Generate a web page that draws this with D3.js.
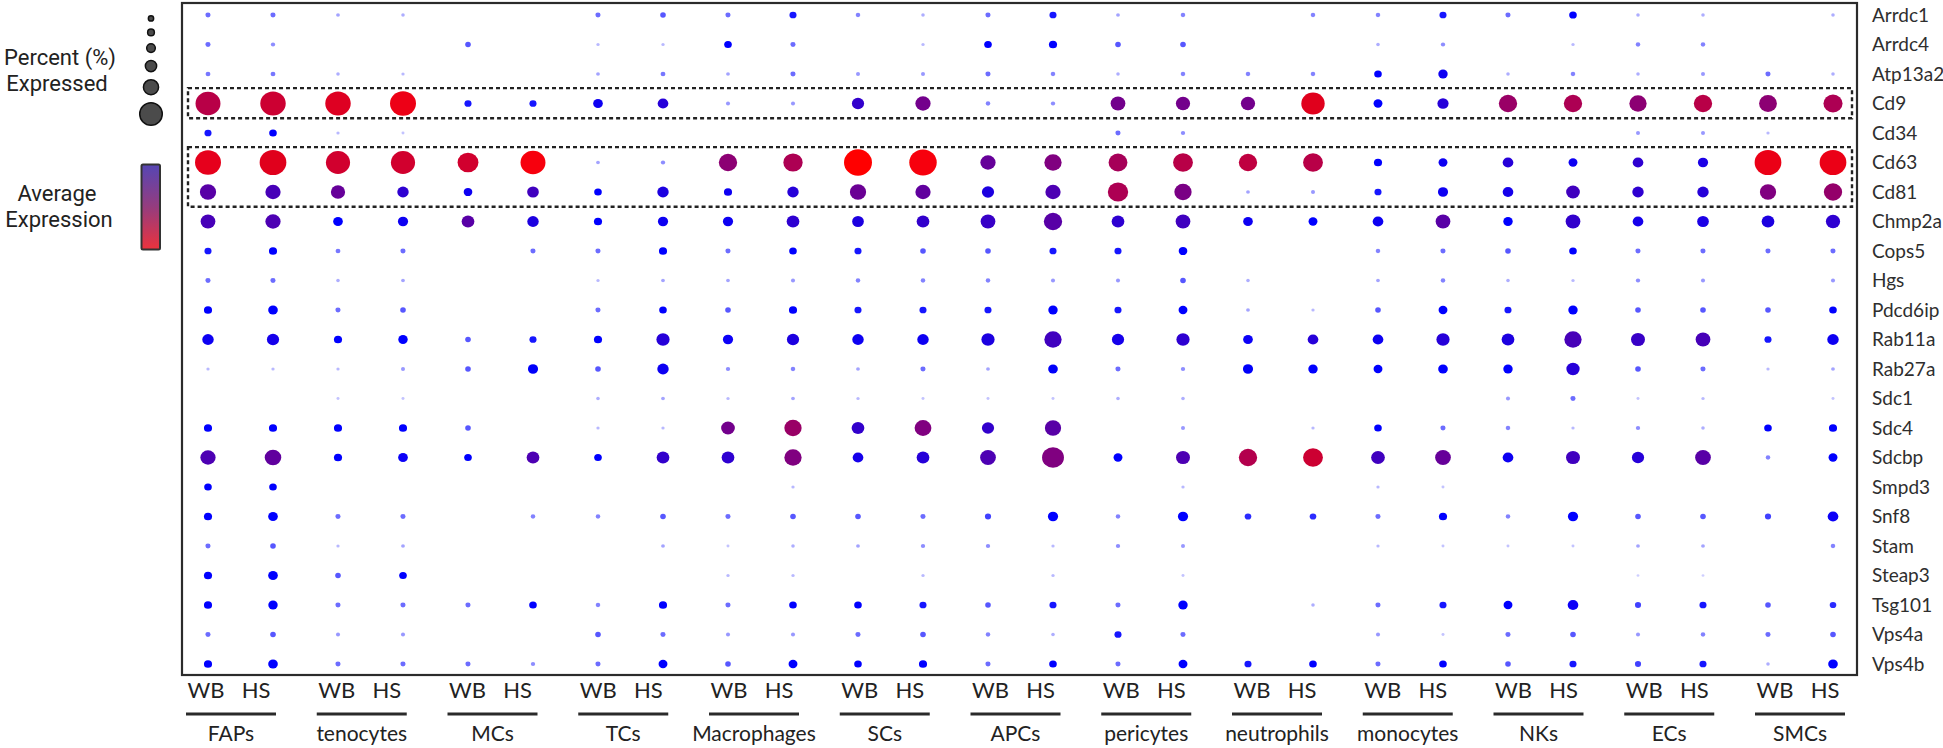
<!DOCTYPE html>
<html>
<head>
<meta charset="utf-8">
<script src="https://cdn.jsdelivr.net/npm/d3@7"></script>
<style>
  html, body { margin: 0; padding: 0; background: #fff; }
  svg { display: block; }
</style>
</head>
<body>
<svg id="chart" width="1943" height="748"></svg>
<script>
// ---------------- DATA ----------------
const genes = ["Arrdc1","Arrdc4","Atp13a2","Cd9","Cd34","Cd63","Cd81","Chmp2a","Cops5","Hgs","Pdcd6ip","Rab11a","Rab27a","Sdc1","Sdc4","Sdcbp","Smpd3","Snf8","Stam","Steap3","Tsg101","Vps4a","Vps4b"];
const cellTypes = ["FAPs","tenocytes","MCs","TCs","Macrophages","SCs","APCs","pericytes","neutrophils","monocytes","NKs","ECs","SMCs"];
const conditions = ["WB","HS"];
const highlightedGeneSets = [["Cd9"],["Cd63","Cd81"]];

// percent expressed, one row per gene (columns: FAPs WB, FAPs HS, tenocytes WB, ...)
const pctExpressed = [
  [10,10,5,4,0,0,10,12,10,18,8,4,10,18,5,8,0,8,8,18,10,20,4,4,0,4],        // Arrdc1
  [10,7,0,0,12,0,3,3,20,10,0,3,20,22,12,12,0,0,4,7,0,3,8,8,0,0],            // Arrdc4
  [9,9,4,3,0,0,5,9,5,10,6,6,10,8,4,8,8,8,20,27,4,8,4,6,10,4],               // Atp13a2
  [88,90,90,92,18,18,28,32,6,6,38,50,8,7,48,46,46,82,25,34,62,62,58,62,60,65], // Cd9
  [18,20,3,2,0,0,0,0,0,0,0,0,0,0,10,7,0,0,0,0,0,0,6,6,3,0],                 // Cd34
  [92,95,85,85,72,88,5,7,62,66,100,98,50,58,64,68,62,68,22,25,32,25,32,30,95,95], // Cd63
  [54,50,46,35,24,36,20,35,22,35,54,50,38,50,70,58,5,6,18,30,32,44,35,35,54,62], // Cd81
  [48,50,28,30,40,35,22,30,30,40,36,40,48,62,40,48,28,25,32,48,27,48,32,36,40,46], // Chmp2a
  [18,22,9,10,0,10,10,22,10,20,18,12,12,18,18,24,0,0,8,10,12,20,10,10,10,10], // Cops5
  [10,10,4,5,0,0,3,5,5,6,8,8,8,6,6,12,4,0,5,8,4,3,7,6,0,6],                 // Hgs
  [22,28,10,12,0,0,10,20,12,22,18,18,18,27,18,25,5,3,12,25,18,27,12,12,12,20], // Pdcd6ip
  [35,38,22,27,12,18,22,42,30,38,35,35,42,58,38,42,28,32,32,42,40,58,45,48,18,35], // Rab11a
  [3,3,3,6,12,30,12,35,7,8,5,10,5,28,10,7,30,27,25,28,27,42,12,10,3,5],     // Rab27a
  [0,0,2,2,0,0,4,5,3,5,3,2,2,2,4,4,0,0,0,0,6,10,2,3,0,2],                   // Sdc1
  [22,22,22,22,12,0,3,3,44,58,40,56,38,54,0,6,0,3,20,10,8,3,7,4,20,22],     // Sdc4
  [50,55,22,28,20,40,20,40,40,58,32,40,52,76,25,45,62,68,44,52,32,45,38,52,8,25], // Sdcbp
  [20,20,0,0,0,0,0,0,0,3,0,0,0,0,0,3,0,0,3,2,0,0,0,0,0,0],                  // Smpd3
  [22,28,10,10,0,8,8,12,10,12,12,10,14,30,8,30,16,16,10,22,8,30,12,12,14,32], // Snf8
  [10,12,3,5,0,0,0,5,2,4,5,7,7,3,7,6,0,0,3,2,2,2,5,5,0,8],                  // Stam
  [22,28,12,20,0,0,0,0,3,3,0,3,0,3,0,2,0,0,0,0,0,0,1,1,0,0],                // Steap3
  [22,27,10,10,10,20,8,22,10,20,20,18,12,18,10,27,0,4,10,18,25,32,14,18,12,16], // Tsg101
  [10,12,6,6,0,0,12,10,6,6,10,12,8,4,18,10,0,0,6,2,10,12,6,8,10,12],        // Vps4a
  [22,28,10,10,10,7,10,25,12,25,20,22,10,20,10,25,18,20,10,20,12,18,14,18,4,28] // Vps4b
];

// average expression (scaled 0 = low/blue ... 1 = high/red), same layout
const avgExpression = [
  [0,0,0,0,0,0,0,0,0,0,0,0,0,0,0,0,0,0,0,0,0,0,0,0,0,0],                    // Arrdc1
  [0,0,0,0,0,0,0,0,0,0,0,0,0,0,0,0,0,0,0,0,0,0,0,0,0,0],                    // Arrdc4
  [0,0,0,0,0,0,0,0,0,0,0,0,0,0,0,0,0,0,0,0.05,0,0,0,0,0,0],                 // Atp13a2
  [0.72,0.8,0.87,0.93,0,0,0.05,0.15,0,0,0.2,0.45,0,0,0.45,0.45,0.45,0.88,0,0.15,0.6,0.68,0.55,0.72,0.55,0.68], // Cd9
  [0,0,0,0,0,0,0,0,0,0,0,0,0,0,0,0,0,0,0,0,0,0,0,0,0,0],                    // Cd34
  [0.9,0.88,0.82,0.82,0.82,0.97,0,0,0.55,0.68,1,0.97,0.4,0.5,0.65,0.72,0.75,0.72,0,0.05,0.15,0.05,0.18,0.1,0.92,0.92], // Cd63
  [0.35,0.28,0.4,0.18,0.05,0.25,0,0.12,0.05,0.15,0.42,0.38,0.12,0.3,0.68,0.48,0,0,0,0.05,0.08,0.25,0.18,0.15,0.5,0.58], // Cd81
  [0.28,0.3,0,0.05,0.35,0.12,0,0.05,0.05,0.18,0.12,0.2,0.22,0.35,0.18,0.25,0.05,0,0.05,0.35,0,0.2,0.08,0.1,0.12,0.18], // Chmp2a
  [0,0,0,0,0,0,0,0,0,0,0,0,0,0,0,0,0,0,0,0,0,0,0,0,0,0],                    // Cops5
  [0,0,0,0,0,0,0,0,0,0,0,0,0,0,0,0,0,0,0,0,0,0,0,0,0,0],                    // Hgs
  [0,0,0,0,0,0,0,0,0,0,0,0,0,0,0,0,0,0,0,0,0,0,0,0,0,0],                    // Pdcd6ip
  [0.05,0.08,0,0,0,0,0,0.15,0.03,0.12,0.05,0.05,0.12,0.25,0.08,0.18,0.03,0.15,0.05,0.15,0.12,0.28,0.22,0.28,0,0.05], // Rab11a
  [0,0,0,0,0,0.02,0,0.05,0,0,0,0,0,0.02,0,0,0.02,0,0,0,0,0.15,0,0,0,0],     // Rab27a
  [0,0,0,0,0,0,0,0,0,0,0,0,0,0,0,0,0,0,0,0,0,0,0,0,0,0],                    // Sdc1
  [0,0,0,0,0,0,0,0,0.45,0.6,0.2,0.5,0.2,0.35,0,0,0,0,0,0,0,0,0,0,0,0],      // Sdc4
  [0.3,0.38,0,0.03,0,0.3,0,0.2,0.18,0.5,0.08,0.15,0.3,0.5,0,0.3,0.7,0.8,0.25,0.4,0.05,0.25,0.15,0.35,0,0], // Sdcbp
  [0,0,0,0,0,0,0,0,0,0,0,0,0,0,0,0,0,0,0,0,0,0,0,0,0,0],                    // Smpd3
  [0,0,0,0,0,0,0,0,0,0,0,0,0,0,0,0,0,0,0,0,0,0,0,0,0,0.03],                 // Snf8
  [0,0,0,0,0,0,0,0,0,0,0,0,0,0,0,0,0,0,0,0,0,0,0,0,0,0],                    // Stam
  [0,0,0,0,0,0,0,0,0,0,0,0,0,0,0,0,0,0,0,0,0,0,0,0,0,0],                    // Steap3
  [0,0,0,0,0,0,0,0,0,0,0,0,0,0,0,0,0,0,0,0,0,0.03,0,0,0,0],                 // Tsg101
  [0,0,0,0,0,0,0,0,0,0,0,0,0,0,0,0,0,0,0,0,0,0,0,0,0,0],                    // Vps4a
  [0,0,0,0,0,0,0,0,0,0,0,0,0,0,0,0,0,0,0,0,0,0,0,0,0,0]                     // Vps4b
];

// size legend (percent values shown by the unlabeled legend circles)
const legendPct = [12, 18, 26, 37, 53, 84];
const legendTitles = [["Percent (%)", "Expressed"], ["Average", "Expression"]];

// ---------------- CHART ----------------
const svg = d3.select("#chart");
const columns = cellTypes.flatMap(ct => conditions.map(c => ({ ct, c, key: ct + "|" + c })));

const x = d3.scalePoint().domain(columns.map(d => d.key)).range([208, 1833]);
const y = d3.scalePoint().domain(genes).range([15, 664]);
const r = d3.scaleLinear().domain([0, 100]).range([1.2, 13.2]);
const alpha = d3.scaleLinear().domain([0, 20]).range([0.15, 1]).clamp(true);
const color = d3.scaleLinear().domain([0, 1]).range(["#0000ff", "#ff0000"]).interpolate(d3.interpolateRgb);
const labelX = d3.scalePoint().domain(cellTypes).range([231, 1800]);

const defs = svg.append("defs");
defs.append("filter").attr("id", "soft")
  .attr("x", "-5%").attr("y", "-5%").attr("width", "110%").attr("height", "110%")
  .append("feGaussianBlur").attr("stdDeviation", 0.75);
const grad = defs.append("linearGradient").attr("id", "cbar")
  .attr("x1", 0).attr("y1", 0).attr("x2", 0).attr("y2", 1);
grad.append("stop").attr("offset", "0%").attr("stop-color", "#5646b4");
grad.append("stop").attr("offset", "50%").attr("stop-color", "#953c7e");
grad.append("stop").attr("offset", "100%").attr("stop-color", "#ec333d");

// plot frame
const [fx0, fx1] = [182, 1857];
const [fy0, fy1] = [3, 675];
svg.append("rect")
  .attr("x", fx0).attr("y", fy0).attr("width", fx1 - fx0).attr("height", fy1 - fy0)
  .attr("fill", "none").attr("stroke", "#2b2b2b").attr("stroke-width", 2.2);

// dots
const cells = [];
genes.forEach((g, i) => columns.forEach((col, j) => {
  cells.push({ gene: g, col: col.key, pct: pctExpressed[i][j], exp: avgExpression[i][j] });
}));
svg.append("g").attr("filter", "url(#soft)")
  .selectAll("ellipse").data(cells.filter(d => d.pct > 0)).join("ellipse")
  .attr("cx", d => x(d.col))
  .attr("cy", d => y(d.gene))
  .attr("rx", d => r(d.pct) * 1.06)
  .attr("ry", d => r(d.pct))
  .attr("fill", d => color(d.exp))
  .attr("fill-opacity", d => alpha(d.pct));

// dashed highlight boxes
const step = y.step();
highlightedGeneSets.forEach(set => {
  const top = y(set[0]) - step * 0.52;
  const bot = y(set[set.length - 1]) + step * 0.5;
  svg.append("rect")
    .attr("x", 188).attr("y", top).attr("width", 1852 - 188).attr("height", bot - top)
    .attr("fill", "none").attr("stroke", "#222").attr("stroke-width", 2.4)
    .attr("stroke-dasharray", "4,3");
});

// gene labels (right)
svg.append("g").selectAll("text").data(genes).join("text")
  .attr("x", 1872).attr("y", d => y(d)).attr("dy", "0.35em")
  .attr("font-family", "Lato, sans-serif").attr("font-size", 19).attr("fill", "#2e2e2e")
  .text(d => d);

// bottom condition / cell type labels
const bottom = svg.append("g").attr("font-family", "Lato, sans-serif").attr("fill", "#222");
cellTypes.forEach(ct => {
  const cx = labelX(ct);
  conditions.forEach((c, k) => {
    bottom.append("text").attr("x", cx + (k === 0 ? -25 : 25)).attr("y", 698)
      .attr("text-anchor", "middle").attr("font-size", 22).text(c);
  });
  bottom.append("line").attr("x1", cx - 45).attr("x2", cx + 45)
    .attr("y1", 714).attr("y2", 714).attr("stroke", "#2a2a2a").attr("stroke-width", 3);
  bottom.append("text").attr("x", cx).attr("y", 741)
    .attr("text-anchor", "middle").attr("font-size", 21).text(ct);
});

// legend: titles
const leg = svg.append("g").attr("font-family", "Roboto, sans-serif").attr("font-size", 22).attr("fill", "#222");
leg.append("text").attr("x", 60).attr("y", 65).attr("text-anchor", "middle").text(legendTitles[0][0]);
leg.append("text").attr("x", 57).attr("y", 90.5).attr("text-anchor", "middle").text(legendTitles[0][1]);
leg.append("text").attr("x", 57).attr("y", 201).attr("text-anchor", "middle").text(legendTitles[1][0]);
leg.append("text").attr("x", 59).attr("y", 227).attr("text-anchor", "middle").text(legendTitles[1][1]);

// legend: size circles (stacked)
let cursor = 15;
const legendCircles = legendPct.map(p => {
  const rr = r(p) + 0.75;
  const cy = cursor + rr;
  cursor = cy + rr + 6.5;
  return { p, cy };
});
svg.append("g").selectAll("circle").data(legendCircles).join("circle")
  .attr("cx", 151).attr("cy", d => d.cy).attr("r", d => r(d.p))
  .attr("fill", "#4b4b4b").attr("stroke", "#111").attr("stroke-width", 1.5);

// legend: colour bar
svg.append("rect").attr("x", 141.5).attr("y", 164.5).attr("width", 18.5).attr("height", 85)
  .attr("rx", 1.5).attr("fill", "url(#cbar)").attr("stroke", "#333").attr("stroke-width", 2);
</script>
</body>
</html>
